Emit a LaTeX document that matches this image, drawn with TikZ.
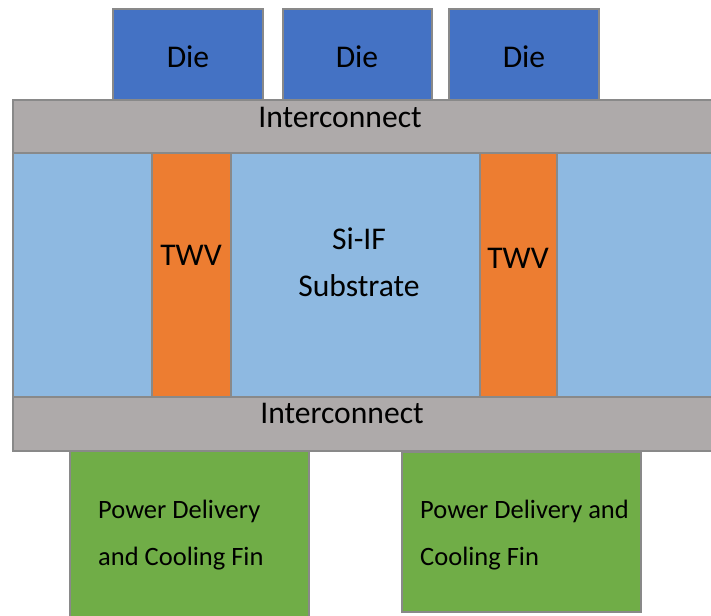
\documentclass[tikz,border=0pt]{standalone}
\usepackage{fontspec}
\setmainfont{Carlito}
\usetikzlibrary{positioning}

\definecolor{dieblue}{HTML}{4472C4}
\definecolor{icgray}{HTML}{AEAAAA}
\definecolor{subblue}{HTML}{8EB9E1}
\definecolor{twvorange}{HTML}{ED7D31}
\definecolor{fingreen}{HTML}{70AD47}
\definecolor{edgegray}{HTML}{898989}

\begin{document}
\begin{tikzpicture}[x=1pt,y=-1pt,
                    layer/.style={draw=edgegray,line width=2pt},
                    big text/.style={font=\fontsize{31.6}{47}\selectfont,align=center,inner sep=0pt},
                    fin text/.style={font=\fontsize{26.5}{47}\selectfont,align=left,anchor=west,inner sep=0pt}
                   ]
   \useasboundingbox (0,0) rectangle (711,615);
   \clip (0,0) rectangle (711,615);

   % dies
   \filldraw[layer,fill=dieblue] (113,9) rectangle (263,100);
   \filldraw[layer,fill=dieblue] (283,9) rectangle (432,100);
   \filldraw[layer,fill=dieblue] (449,9) rectangle (599,100);

   % substrate with vias
   \filldraw[layer,fill=subblue]   (13,153) rectangle (152,397);
   \filldraw[layer,fill=twvorange] (152,153) rectangle (231,397);
   \filldraw[layer,fill=subblue]   (231,153) rectangle (480,397);
   \filldraw[layer,fill=twvorange] (480,153) rectangle (557,397);
   \filldraw[layer,fill=subblue]   (557,153) rectangle (716,397);

   % interconnect layers
   \filldraw[layer,fill=icgray] (13,100) rectangle (716,153);
   \filldraw[layer,fill=icgray] (13,397) rectangle (716,451);

   % power delivery / cooling fins
   \filldraw[layer,fill=fingreen] (70,451) rectangle (309,620);
   \filldraw[layer,fill=fingreen] (402,452) rectangle (641,612);

   % labels
   \node[big text] (die1) at (188,57) {Die};
   \node[big text] (die2) at (357,57) {Die};
   \node[big text] (die3) at (524,57) {Die};
   \node[big text] (ictop) at (340,117) {Interconnect};
   \node[big text] (twv1) at (191,255) {TWV};
   \node[big text] (sub) at (359,262) {Si-IF\\Substrate};
   \node[big text] (twv2) at (518,258) {TWV};
   \node[big text] (icbot) at (342,413) {Interconnect};
   \node[fin text] (fin1) at (98,535) {Power Delivery\\and Cooling Fin};
   \node[fin text] (fin2) at (420,535) {Power Delivery and\\Cooling Fin};
\end{tikzpicture}
\end{document}
